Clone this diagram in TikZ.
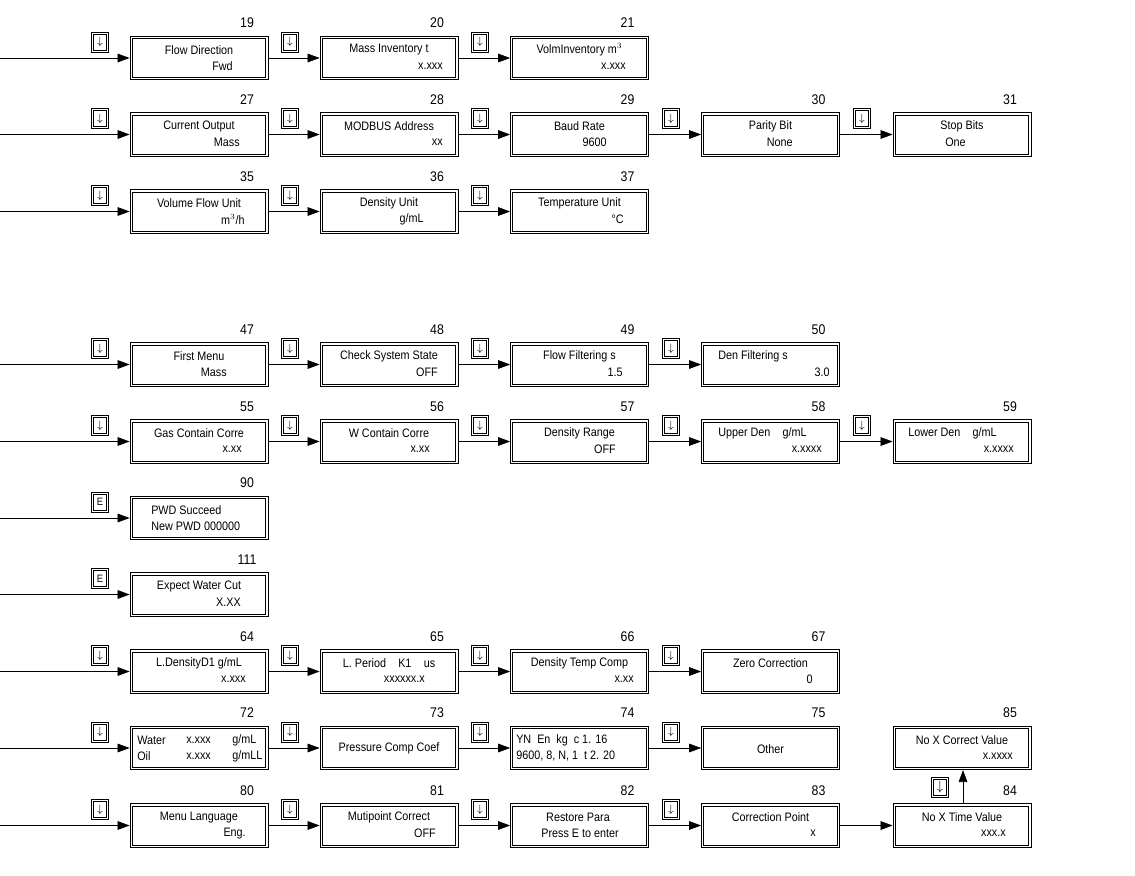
\documentclass[tikz,border=0pt]{standalone}
\usepackage{fontspec}
\setmainfont{Liberation Sans}[FakeStretch=0.88]
\usetikzlibrary{arrows.meta}
\tikzset{
 box/.style={draw,line width=0.6pt,minimum width=103.5pt,minimum height=32.5pt,inner sep=0pt},
 inner/.style={line width=0.6pt},
 icon/.style={draw,line width=0.5pt,minimum width=13pt,minimum height=15pt,inner sep=0pt,font=\fontsize{8}{9}\selectfont},
 txt/.style={inner sep=0pt,font=\fontsize{9.2}{10}\selectfont},
 num/.style={inner sep=0pt,font=\fontsize{10.5}{12}\selectfont},
 arr/.style={line width=0.5pt,-{Triangle[length=9pt,width=6.5pt]}}
}
\newcommand\dbl[2]{\draw[inner] ([shift={(#2,#2)}]#1.north west) rectangle ([shift={(-#2,-#2)}]#1.south east);}
\newcommand\bx[7]{%
 \node[box] (#1) at (#2,#3) {};
 \dbl{#1}{2.6}
 \node[num] (#1n) at ({#2+48},{#3-35}) {#4};
 \node[txt] (#1a) at (#2,{#3-8}) {#5};
 \node[txt,anchor=east] (#1b) at (#7,{#3+8}) {#6};}
\newcommand\ic[4]{\node[icon] (#1) at (#2,{#3-16}) {}; \dbl{#1}{2.3}\node[inner sep=0pt,font=\fontsize{8}{9}\selectfont] at (#1) {#4};}
\begin{document}
\begin{tikzpicture}[x=0.75pt,y=-0.75pt]
\useasboundingbox (0,0) rectangle (1135,875);
\def\dn{$\downarrow$}
% row 1
\bx{b19}{199}{58}{19}{Flow Direction}{Fwd}{233}
\bx{b20}{389}{58}{20}{Mass Inventory t}{x.xxx}{443}
\bx{b21}{579.5}{58}{21}{VolmInventory m$^3$}{x.xxx}{626}
\ic{i19}{100}{58}{\dn}\ic{i20}{290}{58}{\dn}\ic{i21}{480}{58}{\dn}
\coordinate (s1) at (0,58);
\draw[arr] (s1) -- (b19); \draw[arr] (b19) -- (b20); \draw[arr] (b20) -- (b21);
% row 2
\bx{b27}{199}{134.5}{27}{Current Output}{Mass}{240}
\bx{b28}{389}{134.5}{28}{MODBUS Address}{xx}{443}
\bx{b29}{579.5}{134.5}{29}{Baud Rate}{9600}{607}
\bx{b30}{770.5}{134.5}{30}{Parity Bit}{None}{793}
\bx{b31}{962}{134.5}{31}{Stop Bits}{One}{966}
\ic{i27}{100}{134.5}{\dn}\ic{i28}{290}{134.5}{\dn}\ic{i29}{480}{134.5}{\dn}\ic{i30}{671}{134.5}{\dn}\ic{i31}{862}{134.5}{\dn}
\coordinate (s2) at (0,134.5);
\draw[arr] (s2) -- (b27); \draw[arr] (b27) -- (b28); \draw[arr] (b28) -- (b29); \draw[arr] (b29) -- (b30); \draw[arr] (b30) -- (b31);
% row 3
\bx{b35}{199}{211.5}{35}{Volume Flow Unit}{m$^3$/h}{245}
\bx{b36}{389}{211.5}{36}{Density Unit}{g/mL}{424}
\bx{b37}{579.5}{211.5}{37}{Temperature Unit}{°C}{624}
\ic{i35}{100}{211.5}{\dn}\ic{i36}{290}{211.5}{\dn}\ic{i37}{480}{211.5}{\dn}
\coordinate (s3) at (0,211.5);
\draw[arr] (s3) -- (b35); \draw[arr] (b35) -- (b36); \draw[arr] (b36) -- (b37);
% row 4
\bx{b47}{199}{364.5}{47}{First Menu}{Mass}{227}
\bx{b48}{389}{364.5}{48}{Check System State}{OFF}{438}
\bx{b49}{579.5}{364.5}{49}{Flow Filtering s}{1.5}{623}
\bx{b50}{770.5}{364.5}{50}{}{3.0}{830}
\node[txt,anchor=west] (b50a) at (718,356.5) {Den Filtering s};
\ic{i47}{100}{364.5}{\dn}\ic{i48}{290}{364.5}{\dn}\ic{i49}{480}{364.5}{\dn}\ic{i50}{671}{364.5}{\dn}
\coordinate (s4) at (0,364.5);
\draw[arr] (s4) -- (b47); \draw[arr] (b47) -- (b48); \draw[arr] (b48) -- (b49); \draw[arr] (b49) -- (b50);
% row 5
\bx{b55}{199}{441.5}{55}{Gas Contain Corre}{x.xx}{242}
\bx{b56}{389}{441.5}{56}{W Contain Corre}{x.xx}{430}
\bx{b57}{579.5}{441.5}{57}{Density Range}{OFF}{616}
\bx{b58}{770.5}{441.5}{58}{}{x.xxxx}{822}
\node[txt,anchor=west] (b58a) at (718,433.5) {Upper Den\quad g/mL};
\bx{b59}{962}{441.5}{59}{}{x.xxxx}{1014}
\node[txt,anchor=west] (b59a) at (908,433.5) {Lower Den\quad g/mL};
\ic{i55}{100}{441.5}{\dn}\ic{i56}{290}{441.5}{\dn}\ic{i57}{480}{441.5}{\dn}\ic{i58}{671}{441.5}{\dn}\ic{i59}{862}{441.5}{\dn}
\coordinate (s5) at (0,441.5);
\draw[arr] (s5) -- (b55); \draw[arr] (b55) -- (b56); \draw[arr] (b56) -- (b57); \draw[arr] (b57) -- (b58); \draw[arr] (b58) -- (b59);
% row 6
\bx{b90}{199}{518}{90}{}{}{240}
\node[txt,anchor=west] (b90a) at (151,510) {PWD Succeed};
\node[txt,anchor=west] (b90c) at (151,526) {New PWD 000000};
\ic{i90}{100}{518}{E}
\coordinate (s6) at (0,518);
\draw[arr] (s6) -- (b90);
% row 7
\bx{b111}{199}{594.5}{111}{Expect Water Cut}{X.XX}{241}
\ic{i111}{100}{594.5}{E}
\coordinate (s7) at (0,594.5);
\draw[arr] (s7) -- (b111);
% row 8
\bx{b64}{199}{671.5}{64}{L.DensityD1 g/mL}{x.xxx}{246}
\bx{b65}{389}{671.5}{65}{L. Period\quad K1\quad us}{xxxxxx.x}{425}
\bx{b66}{579.5}{671.5}{66}{Density Temp Comp}{x.xx}{634}
\bx{b67}{770.5}{671.5}{67}{Zero Correction}{0}{813}
\ic{i64}{100}{671.5}{\dn}\ic{i65}{290}{671.5}{\dn}\ic{i66}{480}{671.5}{\dn}\ic{i67}{671}{671.5}{\dn}
\coordinate (s8) at (0,671.5);
\draw[arr] (s8) -- (b64); \draw[arr] (b64) -- (b65); \draw[arr] (b65) -- (b66); \draw[arr] (b66) -- (b67);
% row 9
\bx{b72}{199}{748}{72}{}{}{240}
\node[txt,anchor=west] (w1) at (137,740) {Water};
\node[txt,anchor=west] (w2) at (186,740) {x.xxx};
\node[txt,anchor=west] (w3) at (232,740) {g/mL};
\node[txt,anchor=west] (o1) at (137,756) {Oil};
\node[txt,anchor=west] (o2) at (186,756) {x.xxx};
\node[txt,anchor=west] (o3) at (232,756) {g/mLL};
\bx{b73}{389}{748}{73}{}{}{440}
\node[txt] (b73a) at (389,748) {Pressure Comp Coef};
\bx{b74}{579.5}{748}{74}{}{}{620}
\node[txt,anchor=west] (b74a) at (516,740) {YN\ \ En\ \ kg\ \ c 1. 16};
\node[txt,anchor=west] (b74c) at (516,756) {9600, 8, N, 1\ \ t 2. 20};
\bx{b75}{770.5}{748}{75}{}{}{810}
\node[txt] (b75a) at (770.5,749) {Other};
\bx{b85}{962}{748}{85}{No X Correct Value}{x.xxxx}{1013}
\ic{i72}{100}{748}{\dn}\ic{i73}{290}{748}{\dn}\ic{i74}{480}{748}{\dn}\ic{i75}{671}{748}{\dn}
\coordinate (s9) at (0,748);
\draw[arr] (s9) -- (b72); \draw[arr] (b72) -- (b73); \draw[arr] (b73) -- (b74); \draw[arr] (b74) -- (b75);
% row 10
\bx{b80}{199}{825.5}{80}{Menu Language}{Eng.}{246}
\bx{b81}{389}{825.5}{81}{Mutipoint Correct}{OFF}{436}
\bx{b82}{579.5}{825.5}{82}{}{}{600}
\node[txt] (b82a) at (578,817.5) {Restore Para};
\node[txt] (b82c) at (580,833.5) {Press E to enter};
\bx{b83}{770.5}{825.5}{83}{Correction Point}{x}{816}
\bx{b84}{962}{825.5}{84}{No X Time Value}{xxx.x}{1006}
\ic{i80}{100}{825.5}{\dn}\ic{i81}{290}{825.5}{\dn}\ic{i82}{480}{825.5}{\dn}\ic{i83}{671}{825.5}{\dn}
\node[icon] (i84) at (940,787) {}; \dbl{i84}{2.3}\node[inner sep=0pt] at (i84) {\dn};
\coordinate (s10) at (0,825.5);
\draw[arr] (s10) -- (b80); \draw[arr] (b80) -- (b81); \draw[arr] (b81) -- (b82); \draw[arr] (b82) -- (b83); \draw[arr] (b83) -- (b84);
\draw[arr] (b84.north -| 963,0) -- (b85.south -| 963,0);
\end{tikzpicture}
\end{document}
